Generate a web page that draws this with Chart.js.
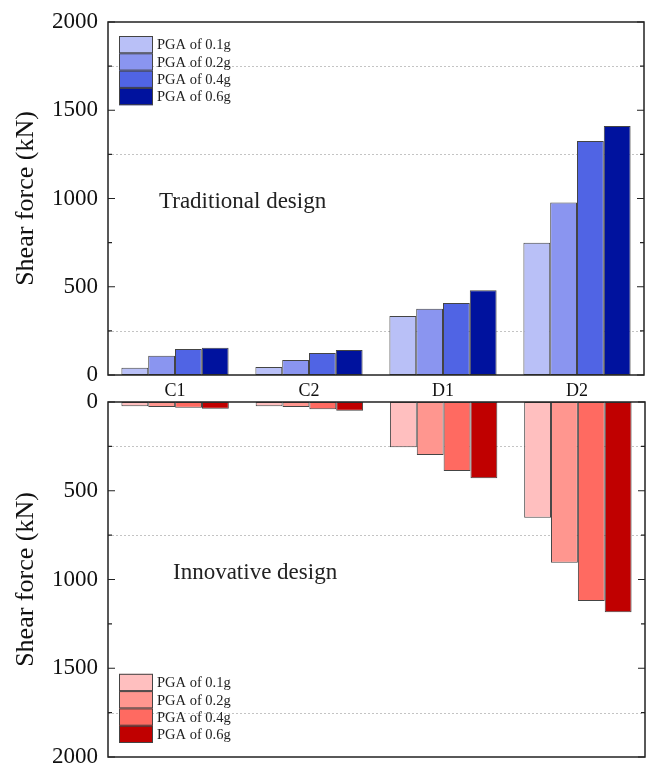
<!DOCTYPE html>
<html>
<head>
<meta charset="utf-8">
<script src="https://cdn.jsdelivr.net/npm/chart.js@4.4.1/dist/chart.umd.min.js"></script>
<style>
  body { margin: 0; background: #fff; }
  #wrap { position: relative; width: 653px; height: 771px; }
  canvas { position: absolute; left: 0; }
  #top-chart { top: 0; }
  #bottom-chart { top: 385px; }
</style>
</head>
<body>
<div id="wrap">
  <canvas id="top-chart" width="653" height="400"></canvas>
  <canvas id="bottom-chart" width="653" height="386"></canvas>
</div>
<script>
// Datos (kN)
const categories = ['C1', 'C2', 'D1', 'D2'];
const pgaLabels = ['PGA of 0.1g', 'PGA of 0.2g', 'PGA of 0.4g', 'PGA of 0.6g'];

// Diseño tradicional
const tradPga01 = [41, 45, 334, 750];
const tradPga02 = [109, 85, 376, 978];
const tradPga04 = [147, 125, 408, 1326];
const tradPga06 = [155, 142, 480, 1411];

// Diseño innovador
const innovPga01 = [24, 24, 255, 652];
const innovPga02 = [28, 28, 299, 905];
const innovPga04 = [32, 41, 389, 1121];
const innovPga06 = [38, 49, 430, 1185];

const yTicks = [0, 500, 1000, 1500, 2000];
const yMinorTicks = [250, 750, 1250, 1750];

const blues = ['#b9c0f7', '#8a95f0', '#5064e4', '#00129e'];
const reds = ['#ffbfbf', '#ff968f', '#ff6a61', '#c00000'];
const serif = "'Liberation Serif', 'Times New Roman', serif";

// Marco, marcas interiores, rejilla punteada, leyenda y texto
const panelPlugin = {
    id: 'panel',
    beforeDatasetsDraw(chart, args, opts) {
        const { ctx, chartArea: a, scales: { y } } = chart;
        ctx.save();
        ctx.strokeStyle = '#c4c4c4';
        ctx.lineWidth = 1;
        ctx.setLineDash([2, 2]);
        opts.gridValues.forEach(v => {
            const py = Math.round(y.getPixelForValue(v)) + 0.5;
            ctx.beginPath();
            ctx.moveTo(a.left, py);
            ctx.lineTo(a.right, py);
            ctx.stroke();
        });
        ctx.restore();
    },
    afterDatasetsDraw(chart, args, opts) {
        const { ctx, chartArea: a, scales: { y } } = chart;
        ctx.save();
        ctx.strokeStyle = '#222';
        ctx.lineWidth = 1.5;
        ctx.strokeRect(a.left, a.top, a.right - a.left, a.bottom - a.top);

        // marcas hacia dentro en ambos lados
        const drawTick = (v, len) => {
            const py = y.getPixelForValue(v);
            ctx.beginPath();
            ctx.moveTo(a.left, py);
            ctx.lineTo(a.left + len, py);
            ctx.moveTo(a.right, py);
            ctx.lineTo(a.right - len, py);
            ctx.stroke();
        };
        ctx.lineWidth = 1.2;
        yTicks.forEach(v => drawTick(v, 7));
        yMinorTicks.forEach(v => drawTick(v, 4));

        // leyenda apilada
        const boxW = 34, boxH = 17.3;
        const lx = a.left + 11;
        const ly = opts.legendTop !== undefined ? a.top + opts.legendTop : a.bottom - opts.legendBottom - boxH * 4;
        ctx.font = '14.5px ' + serif;
        ctx.textBaseline = 'middle';
        chart.data.datasets.forEach((ds, i) => {
            const by = ly + i * boxH;
            ctx.fillStyle = ds.backgroundColor;
            ctx.fillRect(lx, by, boxW, boxH);
            ctx.strokeStyle = '#444';
            ctx.lineWidth = 1;
            ctx.strokeRect(lx + 0.5, by + 0.5, boxW - 1, boxH - 1);
            ctx.fillStyle = '#222';
            ctx.fillText(ds.label, lx + boxW + 4, by + boxH / 2 + 1);
        });

        // etiqueta del panel
        ctx.font = '23px ' + serif;
        ctx.textBaseline = 'alphabetic';
        ctx.fillStyle = '#222';
        ctx.fillText(opts.text, a.left + opts.textX, a.top + opts.textY);
        ctx.restore();
    }
};

function makeDatasets(series, colors) {
    return series.map((data, i) => ({
        label: pgaLabels[i],
        data: data,
        backgroundColor: colors[i],
        borderColor: '#444',
        borderWidth: 1,
        borderSkipped: false,
        categoryPercentage: 0.8,
        barPercentage: 1.0
    }));
}

function yScale(reverse) {
    return {
        min: 0,
        max: 2000,
        reverse: reverse,
        afterBuildTicks: s => { s.ticks = yTicks.map(v => ({ value: v })); },
        afterFit: s => {
            s.width = 108;
            s.paddingTop = 0;
            s.paddingBottom = 0;
        },
        ticks: {
            padding: 10,
            color: '#111',
            font: { family: serif, size: 23 },
            callback: v => String(v)
        },
        grid: { display: false, drawTicks: false },
        border: { display: false },
        title: {
            display: true,
            text: 'Shear force (kN)',
            color: '#111',
            font: { family: serif, size: 26 },
            padding: { top: 11, bottom: 0 }
        }
    };
}

const baseOptions = {
    responsive: false,
    animation: false,
    devicePixelRatio: 1,
    events: []
};

// Panel superior: diseño tradicional
new Chart(document.getElementById('top-chart'), {
    type: 'bar',
    data: {
        labels: categories,
        datasets: makeDatasets([tradPga01, tradPga02, tradPga04, tradPga06], blues)
    },
    options: {
        ...baseOptions,
        layout: { padding: { top: 22, right: 9, left: 0, bottom: 0 } },
        plugins: {
            legend: { display: false },
            tooltip: { enabled: false },
            panel: {
                gridValues: [250, 1250, 1750],
                legendTop: 14,
                text: 'Traditional design',
                textX: 51,
                textY: 186
            }
        },
        scales: {
            x: {
                afterFit: s => { s.height = 25; },
                ticks: { padding: 5, color: '#111', font: { family: serif, size: 18 } },
                grid: { display: false, drawTicks: false },
                border: { display: false }
            },
            y: yScale(false)
        }
    },
    plugins: [panelPlugin]
});

// Panel inferior: diseño innovador
new Chart(document.getElementById('bottom-chart'), {
    type: 'bar',
    data: {
        labels: categories,
        datasets: makeDatasets([innovPga01, innovPga02, innovPga04, innovPga06], reds)
    },
    options: {
        ...baseOptions,
        layout: { padding: { top: 17, right: 8, left: 0, bottom: 14 } },
        plugins: {
            legend: { display: false },
            tooltip: { enabled: false },
            panel: {
                gridValues: [250, 750, 1750],
                legendBottom: 14,
                text: 'Innovative design',
                textX: 65,
                textY: 177
            }
        },
        scales: {
            x: { display: false },
            y: yScale(true)
        }
    },
    plugins: [panelPlugin]
});
</script>
</body>
</html>
